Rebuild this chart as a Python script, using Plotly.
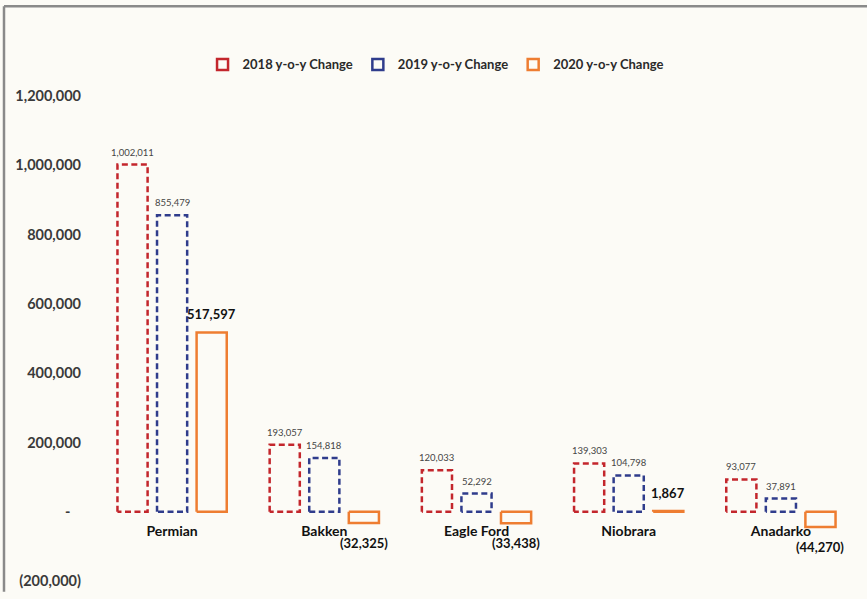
import plotly.graph_objects as go

# Basin names and year-over-year production changes
basins = ["Permian", "Bakken", "Eagle Ford", "Niobrara", "Anadarko"]
change_2018 = [1002011, 193057, 120033, 139303, 93077]
change_2019 = [855479, 154818, 52292, 104798, 37891]
change_2020 = [517597, -32325, -33438, 1867, -44270]

y_ticks = [-200000, 0, 200000, 400000, 600000, 800000, 1000000, 1200000]
y_ticktext = ["(200,000)", "-\u00a0\u00a0\u00a0", "200,000", "400,000", "600,000",
              "800,000", "1,000,000", "1,200,000"]

series = [
    ("2018 y-o-y Change", change_2018, "#c3262c", "6px,3.5px", -1),
    ("2019 y-o-y Change", change_2019, "#2f3c8c", "6px,3.5px", 0),
    ("2020 y-o-y Change", change_2020, "#ee7d31", "solid", 1),
]

SLOT = 0.26      # spacing between bars within a basin group
HALF_W = 0.099   # half of a bar's width in category units

BG = "#fcfbf6"
FONT = "Lato"

M_TOP, M_BOTTOM = 96, 11
PLOT_H = 599 - M_TOP - M_BOTTOM


def fmt(v):
    s = f"{abs(v):,}"
    return f"({s})" if v < 0 else s


fig = go.Figure()
labels = []

for name, vals, color, dash, k in series:
    xs, ys = [], []
    for i, v in enumerate(vals):
        c = i + k * SLOT
        x0, x1 = c - HALF_W, c + HALF_W
        xs += [x0, x0, x1, x1, x0, None]
        ys += [0, v, v, 0, 0, None]
    # hollow bar outlines
    fig.add_trace(go.Scatter(
        x=xs, y=ys, mode="lines", showlegend=False, hoverinfo="skip",
        line=dict(color=color, width=2.5, dash=dash),
    ))
    # legend entry
    fig.add_trace(go.Scatter(
        x=[None], y=[None], mode="markers", name=name,
        marker=dict(symbol="square-open", size=11, color=color,
                    line=dict(width=2.5, color=color)),
    ))
    # data labels
    bold = k == 1
    for i, v in enumerate(vals):
        labels.append(dict(
            x=i + k * SLOT, y=v, xref="x", yref="y", showarrow=False,
            text=f"<b>{fmt(v)}</b>" if bold else fmt(v),
            yanchor="bottom" if v >= 0 else "top",
            yshift=(8 if bold else 5) if v >= 0 else -10,
            font=dict(family=FONT, size=13 if bold else 9.5,
                      color="#111111" if bold else "#454545"),
        ))

zero_pos = (0 - y_ticks[0]) / (y_ticks[-1] - y_ticks[0])

fig.update_layout(
    width=867, height=599,
    margin=dict(l=96, r=10, t=M_TOP, b=M_BOTTOM),
    paper_bgcolor=BG, plot_bgcolor=BG,
    font=dict(family=FONT, color="#404040"),
    showlegend=True,
    legend=dict(
        orientation="h", x=0.14, xanchor="left",
        y=1 + (M_TOP - 64) / PLOT_H, yanchor="middle",
        font=dict(family=FONT, size=13, color="#2a2a2a", weight="bold"),
        itemwidth=30, bgcolor="rgba(0,0,0,0)", tracegroupgap=0,
    ),
    xaxis=dict(
        range=[-0.5, len(basins) - 0.5], tickvals=list(range(len(basins))),
        ticktext=[f"<b>{b}</b>" for b in basins],
        tickfont=dict(family=FONT, size=14, color="#111111"),
        showgrid=False, zeroline=False, showline=False, ticks="",
        anchor="free", position=zero_pos, ticklabelstandoff=9,
    ),
    yaxis=dict(
        range=[y_ticks[0], y_ticks[-1]], tickvals=y_ticks, ticktext=y_ticktext,
        tickfont=dict(family=FONT, size=14.5, color="#3a3a3a", weight="bold"),
        showgrid=False, zeroline=False, showline=False, ticks="",
        ticklabelstandoff=14,
    ),
    annotations=labels,
    shapes=[
        dict(type="line", xref="paper", yref="paper",
             x0=(4 - 96) / 761, x1=(867 - 96) / 761,
             y0=1 + (M_TOP - 5) / PLOT_H, y1=1 + (M_TOP - 5) / PLOT_H,
             line=dict(color="#8a8a8a", width=2.5)),
        dict(type="line", xref="paper", yref="paper",
             x0=(4 - 96) / 761, x1=(4 - 96) / 761,
             y0=1 + (M_TOP - 5) / PLOT_H, y1=-M_BOTTOM / PLOT_H,
             line=dict(color="#8a8a8a", width=2.5)),
    ],
)

fig.write_html("out.html")
